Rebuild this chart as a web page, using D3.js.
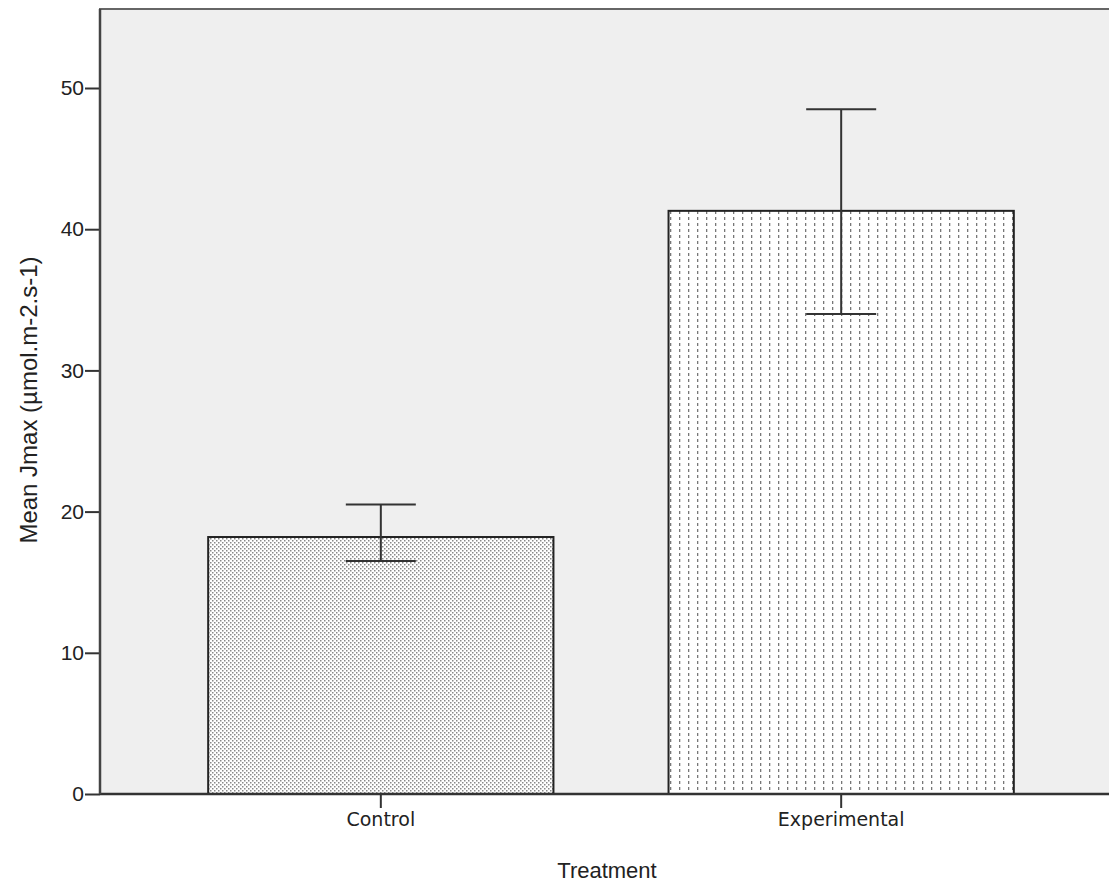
<!DOCTYPE html>
<html>
<head>
<meta charset="utf-8">
<script src="https://cdn.jsdelivr.net/npm/d3@7"></script>
<style>
  body { margin: 0; background: #fff; }
  svg { display: block; }
</style>
</head>
<body>
<div id="chart"></div>
<script>
var categories = ["Control", "Experimental"];
var means = [18.2, 41.3];
var lowerCI = [16.5, 34.0];
var upperCI = [20.5, 48.5];
var yTicks = [0, 10, 20, 30, 40, 50];

var width = 1109, height = 885;
var margin = {top: 9, right: -13, bottom: 91, left: 100};

var svg = d3.select("#chart")
  .append("svg")
    .attr("width", width)
    .attr("height", height);

var defs = svg.append("defs");

// fine dot pattern for Control
var p1 = defs.append("pattern")
    .attr("id", "dots")
    .attr("patternUnits", "userSpaceOnUse")
    .attr("width", 4).attr("height", 4);
p1.append("rect").attr("width", 4).attr("height", 4).attr("fill", "#ffffff");
p1.append("rect").attr("x", 0).attr("y", 0).attr("width", 1.5).attr("height", 1.5).attr("fill", "#888");
p1.append("rect").attr("x", 2).attr("y", 2).attr("width", 1.5).attr("height", 1.5).attr("fill", "#888");

// vertical dashed lines for Experimental
var p2 = defs.append("pattern")
    .attr("id", "dashes")
    .attr("patternUnits", "userSpaceOnUse")
    .attr("width", 9).attr("height", 6);
p2.append("rect").attr("width", 9).attr("height", 6).attr("fill", "#ffffff");
p2.append("rect").attr("x", 4).attr("y", 1).attr("width", 1.3).attr("height", 3).attr("fill", "#777");

var plotLeft = margin.left, plotRight = width - margin.right;
var plotTop = margin.top, plotBottom = height - margin.bottom;

var y = d3.scaleLinear()
  .domain([0, 50])
  .range([plotBottom, 88]);

var x = d3.scaleBand()
  .domain(categories)
  .range([plotLeft, plotRight])
  .paddingInner(0.25)
  .paddingOuter(0.235);

// plot background + frame
svg.append("rect")
  .attr("x", plotLeft)
  .attr("y", plotTop)
  .attr("width", plotRight - plotLeft)
  .attr("height", plotBottom - plotTop)
  .attr("fill", "#efefef")
  .attr("stroke", "#666")
  .attr("stroke-width", 2);

// bars
svg.selectAll("rect.bar")
  .data(categories)
  .enter()
  .append("rect")
    .attr("class", "bar")
    .attr("x", function(d) { return x(d); })
    .attr("width", x.bandwidth())
    .attr("y", function(d, i) { return y(means[i]); })
    .attr("height", function(d, i) { return y(0) - y(means[i]); })
    .attr("fill", function(d, i) { return i === 0 ? "url(#dots)" : "url(#dashes)"; })
    .attr("stroke", "#222")
    .attr("stroke-width", 2);

// error bars
var capHalf = 35;
var eb = svg.selectAll("g.err")
  .data(categories)
  .enter()
  .append("g")
    .attr("class", "err")
    .attr("stroke", "#333")
    .attr("stroke-width", 2);
eb.append("line")
  .attr("x1", function(d) { return x(d) + x.bandwidth() / 2; })
  .attr("x2", function(d) { return x(d) + x.bandwidth() / 2; })
  .attr("y1", function(d, i) { return y(lowerCI[i]); })
  .attr("y2", function(d, i) { return y(upperCI[i]); });
eb.append("line")
  .attr("x1", function(d) { return x(d) + x.bandwidth() / 2 - capHalf; })
  .attr("x2", function(d) { return x(d) + x.bandwidth() / 2 + capHalf; })
  .attr("y1", function(d, i) { return y(upperCI[i]); })
  .attr("y2", function(d, i) { return y(upperCI[i]); });
eb.append("line")
  .attr("x1", function(d) { return x(d) + x.bandwidth() / 2 - capHalf; })
  .attr("x2", function(d) { return x(d) + x.bandwidth() / 2 + capHalf; })
  .attr("y1", function(d, i) { return y(lowerCI[i]); })
  .attr("y2", function(d, i) { return y(lowerCI[i]); });

// y axis
var yAxis = svg.append("g")
  .attr("transform", "translate(" + plotLeft + ",0)")
  .call(d3.axisLeft(y).tickValues(yTicks).tickSize(15).tickPadding(1).tickFormat(d3.format("d")));
yAxis.select(".domain").remove();
yAxis.selectAll(".tick line").attr("stroke", "#333").attr("stroke-width", 2);
yAxis.selectAll("text")
  .style("font-family", "'Liberation Sans', Arial, sans-serif")
  .style("font-size", "21px")
  .attr("fill", "#222");

// x axis
var xAxis = svg.append("g")
  .attr("transform", "translate(0," + plotBottom + ")")
  .call(d3.axisBottom(x).tickSize(14).tickPadding(5));
xAxis.select(".domain").remove();
xAxis.selectAll(".tick line").attr("stroke", "#333").attr("stroke-width", 2);
xAxis.selectAll("text")
  .style("font-family", "'DejaVu Sans', sans-serif")
  .style("font-size", "19px")
  .attr("fill", "#222");

// axis lines
svg.append("line")
  .attr("x1", plotLeft).attr("x2", width)
  .attr("y1", plotBottom).attr("y2", plotBottom)
  .attr("stroke", "#333").attr("stroke-width", 2.5);
svg.append("line")
  .attr("x1", plotLeft).attr("x2", plotLeft)
  .attr("y1", plotTop).attr("y2", plotBottom)
  .attr("stroke", "#444").attr("stroke-width", 2.5);

// axis titles
svg.append("text")
  .attr("text-anchor", "middle")
  .attr("transform", "translate(37,400)rotate(-90)")
  .style("font-family", "'Liberation Sans', Arial, sans-serif")
  .style("font-size", "24px")
  .attr("fill", "#222")
  .text("Mean Jmax (µmol.m-2.s-1)");

svg.append("text")
  .attr("text-anchor", "middle")
  .attr("x", 607)
  .attr("y", 878)
  .style("font-family", "'Liberation Sans', Arial, sans-serif")
  .style("font-size", "22px")
  .attr("fill", "#222")
  .text("Treatment");
</script>
</body>
</html>
